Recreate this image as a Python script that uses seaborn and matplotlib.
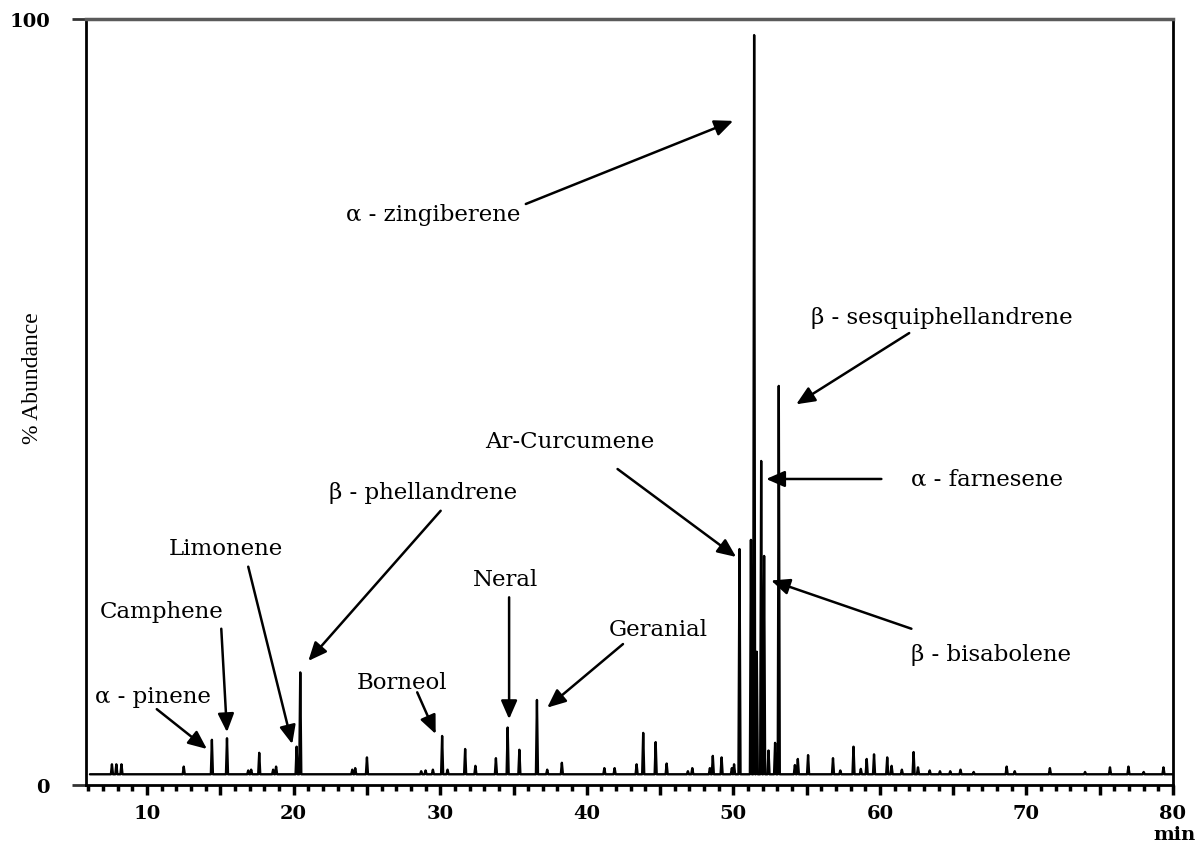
import numpy as np
import pandas as pd
import matplotlib
matplotlib.use("Agg")
import matplotlib.pyplot as plt
from matplotlib.ticker import MultipleLocator, FuncFormatter
import seaborn as sns

# Retention times (min) and abundances (%) of the resolved peaks
peak_times = [7.6, 7.9, 8.25, 12.5, 14.42, 15.45, 16.9, 17.1, 17.65, 18.6, 18.8,
              20.2, 20.45, 24.0, 24.2, 25.0, 28.7, 29.0, 29.5, 30.13, 30.5, 31.7,
              32.4, 33.8, 34.6, 35.4, 36.6, 37.3, 38.3, 41.2, 41.9, 43.4, 43.85,
              44.7, 45.45, 46.9, 47.2, 48.4, 48.6, 49.2, 49.9, 50.05, 50.42, 51.2,
              51.42, 51.6, 51.9, 52.1, 52.4, 52.85, 53.1, 54.2, 54.4, 55.1, 56.8,
              57.3, 58.2, 58.7, 59.1, 59.6, 60.5, 60.8, 61.5, 62.3, 62.6, 63.4,
              64.1, 64.8, 65.5, 66.4, 68.65, 69.2, 71.6, 74.0, 75.7, 76.96, 78.0,
              79.35]
peak_heights = [2.7, 2.7, 2.7, 2.4, 5.9, 6.1, 1.9, 2.0, 4.2, 2.0, 2.4,
                5.0, 14.7, 2.0, 2.2, 3.6, 1.8, 1.9, 2.0, 6.4, 2.0, 4.7,
                2.5, 3.5, 7.5, 4.6, 11.1, 2.0, 2.9, 2.2, 2.2, 2.7, 6.8,
                5.6, 2.8, 1.8, 2.2, 2.2, 3.8, 3.6, 2.2, 2.7, 30.8, 32.0,
                97.9, 17.4, 42.3, 29.9, 4.5, 5.5, 52.1, 2.6, 3.4, 3.9, 3.5,
                1.9, 5.0, 2.1, 3.4, 4.0, 3.6, 2.5, 2.0, 4.3, 2.3, 1.9,
                1.8, 1.8, 2.0, 1.7, 2.4, 1.8, 2.2, 1.7, 2.3, 2.4, 1.7,
                2.3]
baseline_level = 1.4
run_start, run_end = 6.1, 80.0

# Compound labels: (text, text position, arrow start, arrow tip)
labels = ["α - zingiberene", "β - sesquiphellandrene", "α - farnesene",
          "β - bisabolene", "Ar-Curcumene", "β - phellandrene", "Limonene",
          "Camphene", "α - pinene", "Borneol", "Neral", "Geranial"]
label_xy = [(29.55, 74.5), (64.2, 61.1), (67.3, 39.95), (67.6, 17.1),
            (38.85, 44.9), (28.8, 38.25), (15.4, 30.9), (11.0, 22.7),
            (10.4, 11.6), (27.4, 13.45), (34.47, 26.9), (44.86, 20.4)]
arrow_from = [(35.84, 75.85), (62.0, 59.0), (60.1, 39.95), (62.15, 20.4),
              (42.1, 41.25), (30.03, 35.8), (16.9, 28.5), (15.06, 20.4),
              (10.66, 9.9), (28.43, 12.1), (34.7, 24.5), (42.47, 18.4)]
arrow_to = [(49.99, 86.7), (54.29, 49.7), (52.24, 39.95), (52.58, 26.7),
            (50.19, 29.77), (21.0, 16.2), (19.9, 5.35), (15.45, 6.9),
            (14.08, 4.7), (29.69, 6.66), (34.7, 8.6), (37.3, 10.1)]

x_tick_labels = ["10", "20", "30", "40", "50", "60", "70", "80"]

# Stick-style trace: each peak rises from the baseline and returns to it
half_width = 0.07
trace_t = [run_start]
trace_v = [baseline_level]
for t, h in zip(peak_times, peak_heights):
    trace_t += [t - half_width, t, t + half_width]
    trace_v += [baseline_level, h, baseline_level]
trace_t.append(run_end)
trace_v.append(baseline_level)
trace = pd.DataFrame({"time": trace_t, "abundance": trace_v})

sns.set_style("ticks")
plt.rcParams["font.family"] = ["DejaVu Serif", "DejaVu Sans"]
plt.rcParams["text.color"] = "black"
plt.rcParams["axes.labelcolor"] = "black"
plt.rcParams["xtick.color"] = "black"
plt.rcParams["ytick.color"] = "black"

fig = plt.figure(figsize=(11.97, 8.45), dpi=100)
ax = fig.add_axes([86 / 1197, 1 - 786 / 845, (1173 - 86) / 1197, (786 - 20) / 845])

sns.lineplot(data=trace, x="time", y="abundance", sort=False, estimator=None,
             color="black", linewidth=1.7, ax=ax)

ax.set_xlim(5.83, 80)
ax.set_ylim(0, 100)

for side in ["left", "right", "bottom"]:
    ax.spines[side].set_color("black")
    ax.spines[side].set_linewidth(2.0)
ax.spines["top"].set_color("#5a5a5a")
ax.spines["top"].set_linewidth(2.5)

# x axis: ticks every minute, bigger every 5, labelled every 10
ax.xaxis.set_major_locator(MultipleLocator(5))
ax.xaxis.set_minor_locator(MultipleLocator(1))
ax.xaxis.set_major_formatter(
    FuncFormatter(lambda v, p: f"{int(round(v))}" if f"{int(round(v))}" in x_tick_labels and abs(v - round(v)) < 1e-6 else ""))
ax.tick_params(axis="x", which="major", direction="out", length=7, width=2.5,
               pad=7, labelsize=14, color="black")
ax.tick_params(axis="x", which="minor", direction="out", length=4, width=2.5,
               color="black")
for lab in ax.get_xticklabels():
    lab.set_fontweight("bold")

ax.set_yticks([0, 100])
ax.set_yticklabels(["0", "100"], fontweight="bold")
ax.tick_params(axis="y", which="major", direction="out", length=10, width=2.0,
               pad=16, labelsize=14, color="#333333")

ax.set_xlabel("")
ax.set_ylabel("% Abundance", fontsize=17, family="Liberation Serif")
ax.yaxis.set_label_coords(-0.04, 0.533)

fig.text(1175 / 1197, 1 - 835 / 845, "min", ha="center", va="center",
         fontsize=14, fontweight="bold")

for text, pos, start, tip in zip(labels, label_xy, arrow_from, arrow_to):
    ax.text(pos[0], pos[1], text, ha="center", va="center", fontsize=16.5,
            color="black")
    ax.annotate("", xy=tip, xytext=start,
                arrowprops=dict(arrowstyle="-|>,head_length=0.8,head_width=0.35",
                                mutation_scale=14, lw=1.8, color="black",
                                shrinkA=0, shrinkB=0))

fig.savefig("out.png", dpi=100)
